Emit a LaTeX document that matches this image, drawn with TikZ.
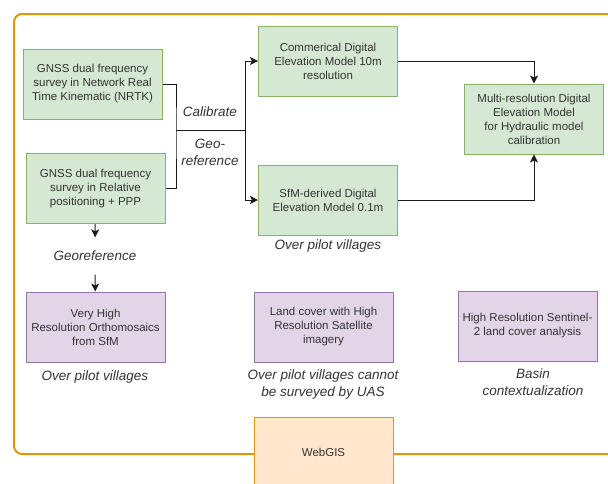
\documentclass[tikz,border=0pt]{standalone}
\usepackage{fontspec}
\setmainfont{Liberation Sans}
\usetikzlibrary{positioning,arrows.meta}

\definecolor{greenfill}{HTML}{D5E8D4}
\definecolor{greenline}{HTML}{82B366}
\definecolor{purplefill}{HTML}{E1D5E7}
\definecolor{purpleline}{HTML}{9673A6}
\definecolor{orangefill}{HTML}{FFE6CC}
\definecolor{orangeline}{HTML}{D79B00}
\definecolor{textgray}{HTML}{333333}
\definecolor{linegray}{HTML}{1A1A1A}

\begin{document}
\begin{tikzpicture}[x=1pt,y=-1pt,
    box/.style={draw, line width=1pt, minimum width=139pt, minimum height=70pt,
        align=center, text=textgray,
        font=\fontsize{11.5}{14}\selectfont},
    greenbox/.style={box, fill=greenfill, draw=greenline},
    purplebox/.style={box, fill=purplefill, draw=purpleline},
    orangebox/.style={box, fill=orangefill, draw=orangeline},
    lbl/.style={align=center, text=textgray, font=\fontsize{13.5}{17}\selectfont\itshape},
    link/.style={line width=1pt, draw=linegray},
    arr/.style={link, -{Stealth[length=8pt,width=8pt,inset=2pt]}}]

\useasboundingbox (0,0) rectangle (608,483);
\clip (0,0) rectangle (608,483);

% frame
\draw[orangeline, line width=2pt, rounded corners=8pt] (14,14) rectangle (650,454);

% elevation data
\node[greenbox] (nrtk)  at (92.5,84)    {GNSS dual frequency\\survey in Network Real\\Time Kinematic (NRTK)};
\node[greenbox] (ppp)   at (95.5,188.5) {GNSS dual frequency\\survey in Relative\\positioning + PPP};
\node[greenbox] (dem)   at (328,61)     {Commerical Digital\\Elevation Model 10m\\resolution};
\node[greenbox] (sfm)   at (328,200)    {SfM-derived Digital\\Elevation Model 0.1m};
\node[greenbox] (multi) at (534,119)    {Multi-resolution Digital\\Elevation Model\\for Hydraulic model\\calibration};

% land cover
\node[purplebox] (ortho) at (95.5,327)  {Very High\\Resolution Orthomosaics\\from SfM};
\node[purplebox] (land)  at (323.5,327) {Land cover with High\\Resolution Satellite\\imagery};
\node[purplebox] (senti) at (527.5,326) {High Resolution Sentinel-\\2 land cover analysis};

\node[orangebox] (web) at (323.5,452) {WebGIS};

% labels
\node[lbl] (calib)  at (210,112) {Calibrate};
\node[lbl] (georef) at (210,152) {Geo-\\reference};
\node[lbl, minimum height=37pt] (geo) at (95,256) {Georeference};
\node[lbl] (pilota) at (328,246) {Over pilot villages};
\node[lbl] (pilotb) at (95,377)  {Over pilot villages};
\node[lbl] (pilotc) at (323,385) {Over pilot villages cannot\\be surveyed by UAS};
\node[lbl] (basin)  at (533,382) {Basin\\contextualization};

% connectors
\coordinate (j1) at (176,130);
\coordinate (j2) at (245,130);
\draw[link] (nrtk.east) -| (j1) |- (ppp.east);
\draw[link] (j1) -- (j2);
\draw[arr] (j2) |- (dem.west);
\draw[arr] (j2) |- (sfm.west);
\draw[arr] (dem.east) -| (multi.north);
\draw[arr] (sfm.east) -| (multi.south);
\draw[arr] (ppp) -- (geo);
\draw[arr] (geo) -- (ortho);

\end{tikzpicture}
\end{document}
